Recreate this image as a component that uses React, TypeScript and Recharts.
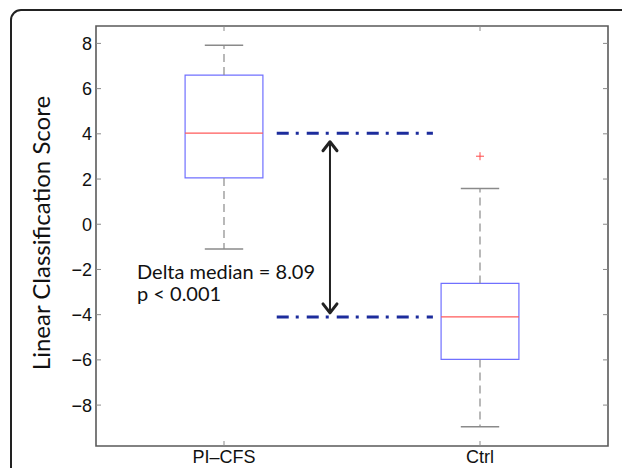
import React from 'react'
import {
  ComposedChart,
  XAxis,
  YAxis,
  ReferenceArea,
  ReferenceLine,
  Scatter,
} from 'recharts'

// categories and box statistics
const groups = ['PI–CFS', 'Ctrl']
const positions = [1, 2]
const upperWhisker = [7.92, 1.58]
const q3 = [6.6, -2.62]
const median = [4.03, -4.1]
const q1 = [2.05, -5.98]
const lowerWhisker = [-1.1, -8.96]
const outlierGroup = [2]
const outlierValue = [3.01]
const yTicks = [-8, -6, -4, -2, 0, 2, 4, 6, 8]
const xDomain = [0.5, 2.5]
const yDomain = [-9.81, 8.77]

// annotation: dash-dot guides at the two medians and the arrow between them
const guideFrom = 1.206
const guideTo = 1.816
const arrowAt = 1.414
const arrowTop = 3.65
const arrowBottom = -3.92
const deltaText = ['Delta median = 8.09', 'p < 0.001']

const outliers = outlierGroup.map((g, i) => ({ x: g, y: outlierValue[i] }))

const W = 622
const H = 468
const M = { top: 26, right: 14, bottom: 0, left: 0 }
const Y_W = 96
const X_H = 22
const PLOT_W = W - M.left - M.right - Y_W
const PLOT_H = H - M.top - M.bottom - X_H

const BOX_HALF = 0.152
const CAP_HALF = 0.075
const tickFont = '"Liberation Sans", Arial, sans-serif'
const labelFont = 'Lato, "Open Sans", sans-serif'
const tickColor = '#8a8a8a'

const fmt = (v: number) => String(v).replace('-', '−')

// matlab-style ticks: inward on both sides of the box
const LeftTick = (p: any) => (
  <g>
    <line x1={p.x} x2={p.x + 5} y1={p.y} y2={p.y} stroke={tickColor} />
    <line x1={p.x + PLOT_W - 5} x2={p.x + PLOT_W} y1={p.y} y2={p.y} stroke={tickColor} />
    <text x={p.x - 4} y={p.y} dy="0.36em" textAnchor="end" fontSize={18} fontFamily={tickFont} fill="#111">
      {fmt(p.payload.value)}
    </text>
  </g>
)

const BottomTick = (p: any) => (
  <g>
    <line x1={p.x} x2={p.x} y1={p.y} y2={p.y - 5} stroke={tickColor} />
    <line x1={p.x} x2={p.x} y1={p.y - PLOT_H} y2={p.y - PLOT_H + 5} stroke={tickColor} />
    <text x={p.x} y={p.y + 17} textAnchor="middle" fontSize={18} fontFamily={tickFont} fill="#111">
      {groups[positions.indexOf(p.payload.value)]}
    </text>
  </g>
)

const Plus = (p: any) => (
  <g stroke="#ff4a4a" strokeWidth={1}>
    <line x1={p.cx - 4} x2={p.cx + 4} y1={p.cy} y2={p.cy} />
    <line x1={p.cx} x2={p.cx} y1={p.cy - 4} y2={p.cy + 4} />
  </g>
)

const Arrow = (p: any) => {
  const { x1, y1, x2, y2 } = p
  const top = Math.min(y1, y2)
  const bot = Math.max(y1, y2)
  return (
    <g stroke="#222" fill="none" strokeLinecap="round" strokeLinejoin="round">
      <line x1={x1} x2={x2} y1={top + 1} y2={bot - 1} strokeWidth={2} />
      <polyline points={`${x1 - 7},${top + 9} ${x1},${top} ${x1 + 7},${top + 9}`} strokeWidth={3} />
      <polyline points={`${x1 - 7},${bot - 9} ${x1},${bot} ${x1 + 7},${bot - 9}`} strokeWidth={3} />
    </g>
  )
}

const YLabel = (p: any) => {
  const vb = p.viewBox || { x: 0, y: M.top, width: Y_W, height: PLOT_H }
  const cx = vb.x + 42
  const cy = vb.y + vb.height / 2 - 3
  return (
    <text x={cx} y={cy} transform={`rotate(-90 ${cx} ${cy})`} textAnchor="middle" dy="0.35em" fontSize={24} fontFamily={labelFont} fill="#111">
      Linear Classification Score
    </text>
  )
}

export default function App() {
  return (
    <div style={{ position: 'absolute', left: 0, top: 0, width: W, height: H, overflow: 'hidden', background: '#fff' }}>
      <svg width={W} height={H} style={{ position: 'absolute', left: 0, top: 0 }}>
        <rect x={11} y={10} width={700} height={600} rx={10} fill="none" stroke="#222" strokeWidth={2} />
      </svg>
      <div style={{ position: 'absolute', left: 0, top: 0 }}>
        <ComposedChart width={W} height={H} margin={M}>
          <XAxis
            xAxisId="b"
            dataKey="x"
            type="number"
            domain={xDomain}
            ticks={positions}
            height={X_H}
            tickSize={0}
            tickMargin={0}
            tickLine={false}
            axisLine={false}
            tick={<BottomTick />}
          />
          <YAxis
            yAxisId="l"
            dataKey="y"
            type="number"
            domain={yDomain}
            ticks={yTicks}
            width={Y_W}
            tickSize={0}
            tickMargin={0}
            tickLine={false}
            axisLine={false}
            tick={<LeftTick />}
            label={{ content: <YLabel /> }}
          />

          {/* axes box */}
          <ReferenceArea
            xAxisId="b"
            yAxisId="l"
            x1={xDomain[0]}
            x2={xDomain[1]}
            y1={yDomain[0]}
            y2={yDomain[1]}
            fill="#fff"
            fillOpacity={0}
            stroke="#5a5a5a"
            strokeWidth={1.6}
          />

          {positions.map((x, i) => (
            <ReferenceLine
              key={`uw${i}`}
              xAxisId="b"
              yAxisId="l"
              segment={[{ x, y: q3[i] }, { x, y: upperWhisker[i] }]}
              stroke={tickColor}
              strokeWidth={1.2}
              strokeDasharray="8 5"
            />
          ))}
          {positions.map((x, i) => (
            <ReferenceLine
              key={`lw${i}`}
              xAxisId="b"
              yAxisId="l"
              segment={[{ x, y: q1[i] }, { x, y: lowerWhisker[i] }]}
              stroke={tickColor}
              strokeWidth={1.2}
              strokeDasharray="8 5"
            />
          ))}
          {positions.map((x, i) => (
            <ReferenceLine
              key={`uc${i}`}
              xAxisId="b"
              yAxisId="l"
              segment={[{ x: x - CAP_HALF, y: upperWhisker[i] }, { x: x + CAP_HALF, y: upperWhisker[i] }]}
              stroke={tickColor}
              strokeWidth={1.5}
            />
          ))}
          {positions.map((x, i) => (
            <ReferenceLine
              key={`lc${i}`}
              xAxisId="b"
              yAxisId="l"
              segment={[{ x: x - CAP_HALF, y: lowerWhisker[i] }, { x: x + CAP_HALF, y: lowerWhisker[i] }]}
              stroke={tickColor}
              strokeWidth={1.5}
            />
          ))}
          {positions.map((x, i) => (
            <ReferenceArea
              key={`box${i}`}
              xAxisId="b"
              yAxisId="l"
              x1={x - BOX_HALF}
              x2={x + BOX_HALF}
              y1={q1[i]}
              y2={q3[i]}
              fill="#fff"
              fillOpacity={0}
              stroke="#7070ff"
              strokeWidth={1.2}
            />
          ))}
          {positions.map((x, i) => (
            <ReferenceLine
              key={`med${i}`}
              xAxisId="b"
              yAxisId="l"
              segment={[{ x: x - BOX_HALF, y: median[i] }, { x: x + BOX_HALF, y: median[i] }]}
              stroke="#ff5a5a"
              strokeWidth={1.2}
            />
          ))}
          {median.map((m, i) => (
            <ReferenceLine
              key={`guide${i}`}
              xAxisId="b"
              yAxisId="l"
              segment={[{ x: guideFrom, y: m }, { x: guideTo, y: m }]}
              stroke="#1c2c9c"
              strokeWidth={3}
              strokeDasharray="12 7 3 8"
            />
          ))}
          <ReferenceLine
            xAxisId="b"
            yAxisId="l"
            segment={[{ x: arrowAt, y: arrowTop }, { x: arrowAt, y: arrowBottom }]}
            shape={<Arrow />}
          />
          <Scatter
            xAxisId="b"
            yAxisId="l"
            data={outliers}
            shape={<Plus />}
            isAnimationActive={false}
          />
        </ComposedChart>
      </div>
      <svg width={W} height={H} style={{ position: 'absolute', left: 0, top: 0, pointerEvents: 'none' }}>
        <text fontSize={20} fontFamily={labelFont} fill="#111">
          <tspan x={137} y={279}>{deltaText[0]}</tspan>
          <tspan x={137} y={301}>{deltaText[1]}</tspan>
        </text>
      </svg>
    </div>
  )
}
